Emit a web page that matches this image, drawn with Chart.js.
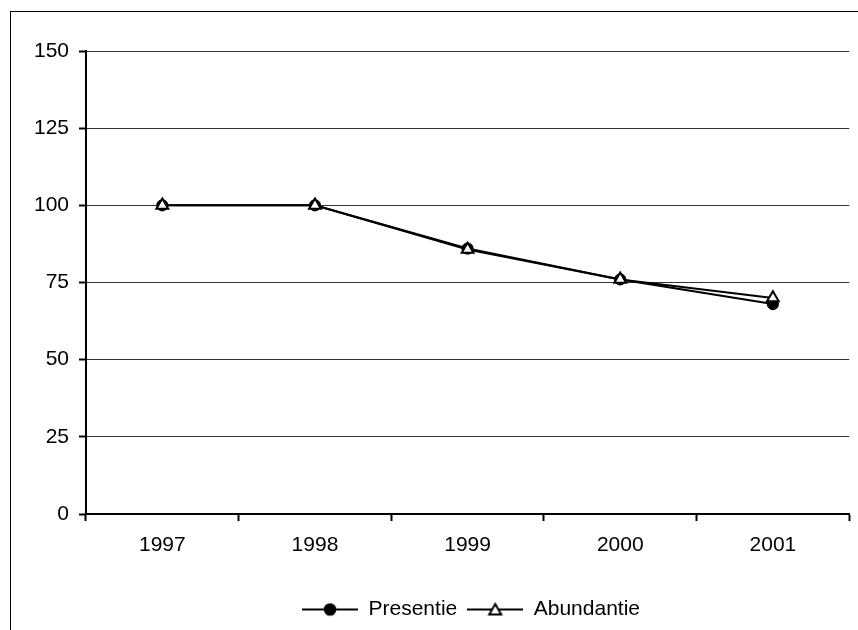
<!DOCTYPE html>
<html>
<head>
<meta charset="utf-8">
<script src="https://cdn.jsdelivr.net/npm/chart.js@4.4.1/dist/chart.umd.min.js"></script>
<style>
    html, body { margin: 0; padding: 0; background: #fff; overflow: hidden; }
    #wrap { position: relative; width: 858px; height: 630px; }
    #frame {
        position: absolute; left: 10px; top: 11px;
        width: 1000px; height: 1000px;
        border-left: 1px solid #000; border-top: 1px solid #000;
    }
    #chart { position: absolute; left: 0; top: 0; }
</style>
</head>
<body>
<div id="wrap">
    <div id="frame"></div>
    <canvas id="chart" width="858" height="630"></canvas>
</div>
<script>
// data
const years = ['1997', '1998', '1999', '2000', '2001'];
const presentie = [100, 100, 86, 76, 68];
const abundantie = [100, 100, 85.7, 76, 70];
const yTicks = [0, 25, 50, 75, 100, 125, 150];

const FONT = "'Liberation Sans', Arial, sans-serif";

// legend swatch: line with marker in the middle
function swatch(kind) {
    const c = document.createElement('canvas');
    c.width = 56;
    c.height = 16;
    const ctx = c.getContext('2d');
    ctx.strokeStyle = '#000';
    ctx.lineWidth = 2;
    ctx.beginPath();
    ctx.moveTo(0, 8);
    ctx.lineTo(56, 8);
    ctx.stroke();
    if (kind === 'circle') {
        ctx.fillStyle = '#000';
        ctx.beginPath();
        ctx.arc(28, 8, 6.3, 0, Math.PI * 2);
        ctx.fill();
    } else {
        ctx.fillStyle = '#fff';
        ctx.lineWidth = 2;
        ctx.beginPath();
        ctx.moveTo(28, 2.5);
        ctx.lineTo(34, 13);
        ctx.lineTo(22, 13);
        ctx.closePath();
        ctx.fill();
        ctx.stroke();
    }
    return c;
}

const swatches = [swatch('circle'), swatch('triangle')];

// nudge the legend to sit under the plot area like the original
const shiftLegend = {
    id: 'shiftLegend',
    afterLayout(chart) {
        chart.legend.left += 45;
        chart.legend.right += 45;
    }
};

new Chart(document.getElementById('chart'), {
    type: 'line',
    data: {
        labels: years,
        datasets: [{
            label: 'Presentie',
            data: presentie,
            borderColor: '#000',
            borderWidth: 2,
            pointStyle: 'circle',
            pointRadius: 5.6,
            pointBackgroundColor: '#000',
            pointBorderColor: '#000',
            pointBorderWidth: 1,
            tension: 0,
            order: 1
        }, {
            label: 'Abundantie',
            data: abundantie,
            borderColor: '#000',
            borderWidth: 2,
            pointStyle: 'triangle',
            pointRadius: 6.8,
            pointBackgroundColor: '#fff',
            pointBorderColor: '#000',
            pointBorderWidth: 2,
            tension: 0,
            order: 0
        }]
    },
    options: {
        responsive: false,
        devicePixelRatio: 1,
        animation: false,
        layout: { padding: { left: 0, right: 6, top: 51, bottom: 0 } },
        scales: {
            x: {
                type: 'category',
                offset: true,
                grid: {
                    offset: true,
                    drawOnChartArea: false,
                    tickLength: 7,
                    tickWidth: 2,
                    tickColor: '#000'
                },
                border: { color: '#000', width: 2 },
                ticks: {
                    color: '#000',
                    font: { family: FONT, size: 21 },
                    padding: 12,
                    maxRotation: 0
                },
                afterFit: s => { s.height = 75; }
            },
            y: {
                min: 0,
                max: 150,
                afterBuildTicks: s => { s.ticks = yTicks.map(v => ({ value: v })); },
                grid: {
                    color: '#333',
                    lineWidth: 1,
                    tickLength: 7,
                    tickWidth: 2,
                    tickColor: '#000'
                },
                border: { color: '#000', width: 2 },
                ticks: {
                    color: '#000',
                    font: { family: FONT, size: 21 },
                    padding: 10
                },
                afterFit: s => { s.width = 86; }
            }
        },
        plugins: {
            tooltip: { enabled: false },
            legend: {
                position: 'bottom',
                labels: {
                    color: '#000',
                    font: { family: FONT, size: 21, lineHeight: 1 },
                    padding: 10,
                    usePointStyle: true,
                    pointStyleWidth: 56,
                    boxHeight: 16,
                    sort: (a, b) => a.datasetIndex - b.datasetIndex,
                    generateLabels: chart => {
                        const items = Chart.defaults.plugins.legend.labels.generateLabels(chart);
                        items.forEach(it => { it.pointStyle = swatches[it.datasetIndex]; });
                        return items;
                    }
                }
            }
        }
    },
    plugins: [shiftLegend]
});
</script>
</body>
</html>
